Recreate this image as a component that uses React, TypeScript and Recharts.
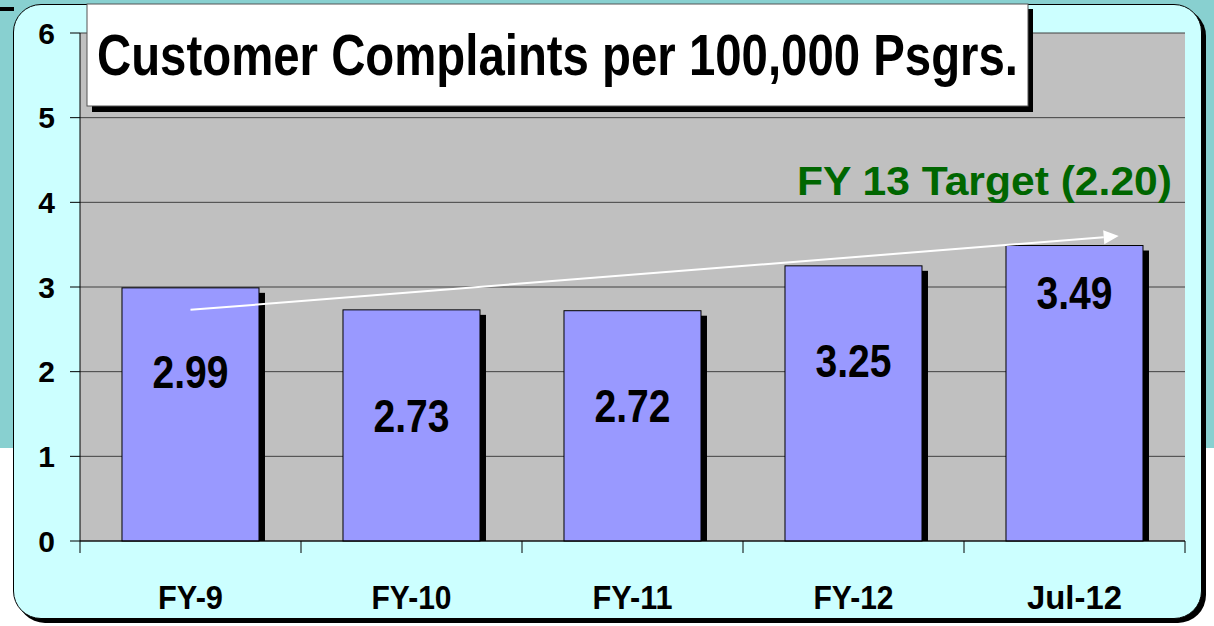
import { Bar, BarChart, CartesianGrid, LabelList, ReferenceLine, XAxis, YAxis } from 'recharts'

const categories = ['FY-9', 'FY-10', 'FY-11', 'FY-12', 'Jul-12']
const complaints = [2.99, 2.73, 2.72, 3.25, 3.49]
const yTicks = [0, 1, 2, 3, 4, 5, 6]
// trend arrow, drawn from first to last category (in data units)
const trendStart = 2.73
const trendEnd = 3.56
const targetText = 'FY 13 Target (2.20)'
const titleText = 'Customer Complaints per 100,000 Psgrs.'

// how far below the bar top each value label sits (px)
const labelDrop = [100, 122, 111, 111, 63]

const data = categories.map((name, i) => ({ name, value: complaints[i] }))

const W = 1214
const H = 626
const M = { top: 33, right: 29, left: 0, bottom: 0 }
const Y_AXIS_W = 80
const X_AXIS_H = 85
const FONT = '"Liberation Sans", Arial, sans-serif'
const band = (W - M.left - M.right - Y_AXIS_W) / categories.length

const BarWithShadow = (props: any) => {
  const { x, y, width, height } = props
  if (!height || height <= 0) return null
  return (
    <g>
      <rect x={x + 6} y={y + 5} width={width} height={height - 5} fill="#000" />
      <rect x={x} y={y} width={width} height={height} fill="#9999FF" stroke="#000" strokeWidth={1} />
    </g>
  )
}

const ValueLabel = (props: any) => {
  const { x, y, width, value, index } = props
  return (
    <text
      x={x + width / 2}
      y={y + labelDrop[index]}
      textAnchor="middle"
      fontFamily={FONT}
      fontWeight={700}
      fontSize={47}
      fill="#000"
      textLength={76}
      lengthAdjust="spacingAndGlyphs"
    >
      {value.toFixed(2)}
    </text>
  )
}

const XTick = (props: any) => {
  const { x, y, payload, index } = props
  const len = payload.value.length
  return (
    <g>
      <line x1={x - band / 2} x2={x - band / 2} y1={y} y2={y + 12} stroke="#000" />
      {index === categories.length - 1 && (
        <line x1={x + band / 2} x2={x + band / 2} y1={y} y2={y + 12} stroke="#000" />
      )}
      <text
        x={x}
        y={y + 68}
        textAnchor="middle"
        fontFamily={FONT}
        fontWeight={700}
        fontSize={34}
        fill="#000"
        textLength={len * 15 + 5}
        lengthAdjust="spacingAndGlyphs"
      >
        {payload.value}
      </text>
    </g>
  )
}

const TrendArrow = (props: any) => {
  const { x1, y1, x2, y2 } = props
  const ex = x2 + (x2 - x1) * 0.05
  const ey = y2 + (y2 - y1) * 0.05
  const ang = Math.atan2(ey - y1, ex - x1)
  const head = 15
  const half = 7
  const bx = ex - head * Math.cos(ang)
  const by = ey - head * Math.sin(ang)
  const px = -Math.sin(ang) * half
  const py = Math.cos(ang) * half
  return (
    <g>
      <line x1={x1} y1={y1} x2={bx} y2={by} stroke="#fff" strokeWidth={2} />
      <polygon points={`${ex},${ey} ${bx + px},${by + py} ${bx - px},${by - py}`} fill="#fff" />
    </g>
  )
}

export default function App() {
  return (
    <div
      style={{
        position: 'absolute',
        left: 0,
        top: 0,
        width: W,
        height: H,
        overflow: 'hidden',
        background: 'linear-gradient(#88D0D0 0px, #88D0D0 448px, #ffffff 448px)',
        fontFamily: FONT,
      }}
    >
      <div style={{ position: 'absolute', left: 0, top: 7, width: 14, height: 4, background: '#000' }} />
      <div
        style={{
          position: 'absolute',
          left: 13,
          top: 4,
          width: 1187,
          height: 613,
          background: '#CCFFFF',
          border: '1.5px solid #000',
          borderRadius: 28,
          boxShadow: '4px 4px 0 #000',
        }}
      />
      <div style={{ position: 'absolute', left: 0, top: 0 }}>
        <BarChart width={W} height={H} data={data} margin={M} barCategoryGap="19%">
          <CartesianGrid vertical={false} stroke="#404040" fill="#C0C0C0" fillOpacity={1} />
          <XAxis
            dataKey="name"
            height={X_AXIS_H}
            axisLine={{ stroke: '#000', strokeWidth: 1 }}
            tickLine={false}
            tickSize={0}
            tickMargin={0}
            tick={<XTick />}
            interval={0}
          />
          <YAxis
            width={Y_AXIS_W}
            domain={[0, 6]}
            ticks={yTicks}
            interval={0}
            axisLine={{ stroke: '#000', strokeWidth: 1 }}
            tickLine={{ stroke: '#000' }}
            tickSize={10}
            tickMargin={15}
            tick={{ fill: '#000', fontSize: 30, fontWeight: 700, fontFamily: FONT }}
          />
          <YAxis
            yAxisId="right"
            orientation="right"
            width={0}
            domain={[0, 6]}
            tick={false}
            tickLine={false}
            axisLine={{ stroke: '#808080' }}
          />
          <Bar dataKey="value" shape={<BarWithShadow />} isAnimationActive={false}>
            <LabelList dataKey="value" content={<ValueLabel />} />
          </Bar>
          <ReferenceLine
            segment={[
              { x: categories[0], y: trendStart },
              { x: categories[categories.length - 1], y: trendEnd },
            ]}
            shape={<TrendArrow />}
          />
        </BarChart>
      </div>
      <svg width={W} height={H} style={{ position: 'absolute', left: 0, top: 0, pointerEvents: 'none' }}>
        <rect x={92} y={9} width={941} height={103} fill="#000" />
        <rect x={87} y={4} width={941} height={102} fill="#fff" stroke="#555" strokeWidth={1} />
        <g transform="translate(557.5 75) scale(1 1.24)">
          <text
            x={0}
            y={0}
            textAnchor="middle"
            fontFamily={FONT}
            fontWeight={700}
            fontSize={47}
            fill="#000"
            textLength={921}
            lengthAdjust="spacingAndGlyphs"
          >
            {titleText}
          </text>
        </g>
        <text
          x={1172}
          y={195}
          textAnchor="end"
          fontFamily={FONT}
          fontWeight={700}
          fontSize={40}
          fill="#006600"
          textLength={375}
          lengthAdjust="spacingAndGlyphs"
        >
          {targetText}
        </text>
      </svg>
    </div>
  )
}
